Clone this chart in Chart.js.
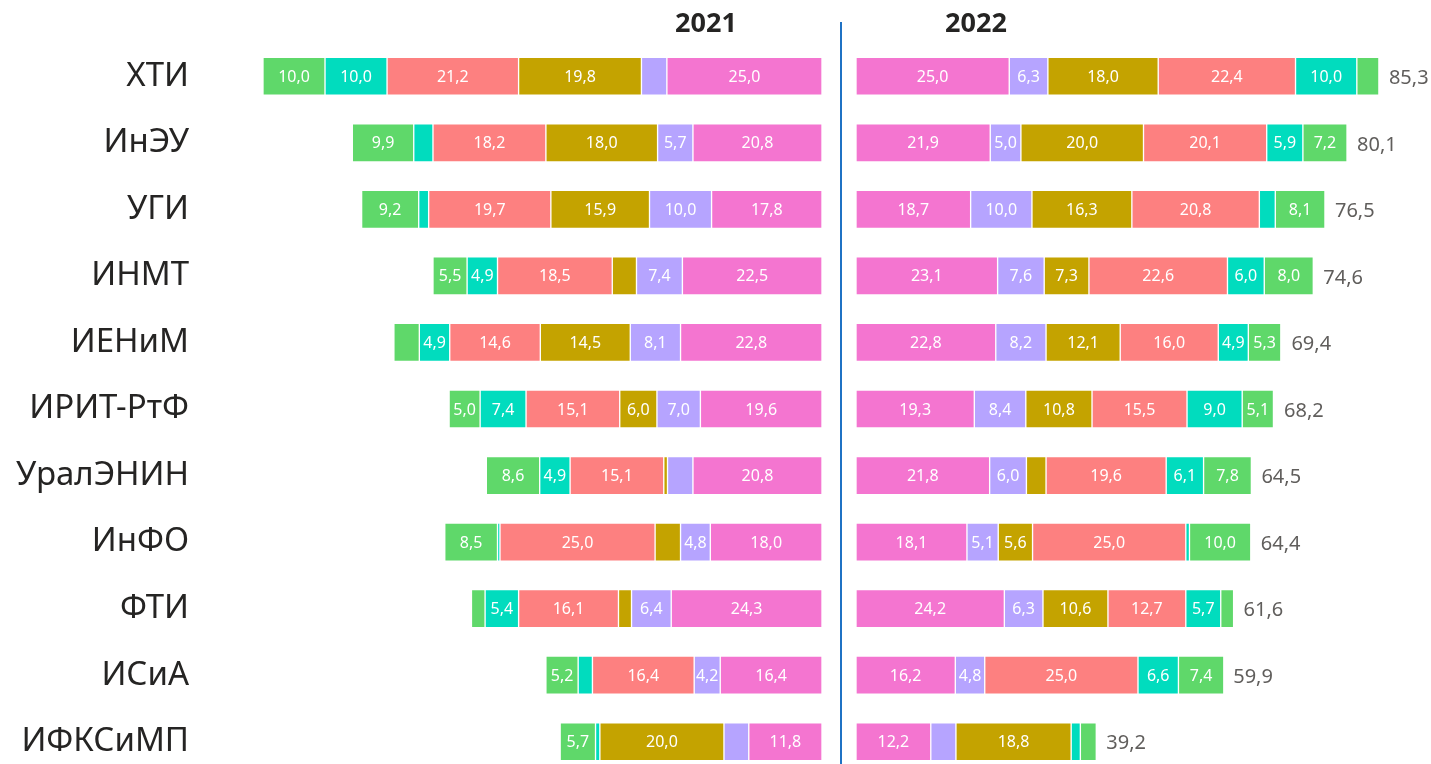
<!DOCTYPE html>
<html>
<head>
<meta charset="utf-8">
<script src="https://cdn.jsdelivr.net/npm/chart.js@4.4.0/dist/chart.umd.min.js"></script>
<style>
  html, body { margin: 0; padding: 0; background: #fff; overflow: hidden; }
  #wrap { position: relative; width: 1431px; height: 764px; }
  #leftBox { position: absolute; left: 0; top: 0; width: 840px; height: 775px; }
  #rightBox { position: absolute; left: 840px; top: 0; width: 591px; height: 775px; }
</style>
</head>
<body>
<div id="wrap">
  <div id="leftBox"><canvas id="left"></canvas></div>
  <div id="rightBox"><canvas id="right"></canvas></div>
</div>
<script>
const institutes = ["ХТИ", "ИнЭУ", "УГИ", "ИНМТ", "ИЕНиМ", "ИРИТ-РтФ", "УралЭНИН", "ИнФО", "ФТИ", "ИСиА", "ИФКСиМП"];
const years = ["2021", "2022"];
const seriesColors = ["#F475D0", "#B6A4FF", "#C4A300", "#FD8080", "#01DCBE", "#5FD86A"];

// 2021 segments
const pink2021     = [25.0, 20.8, 17.8, 22.5, 22.8, 19.6, 20.8, 18.0, 24.3, 16.4, 11.8];
const lavender2021 = [4.1, 5.7, 10.0, 7.4, 8.1, 7.0, 4.1, 4.8, 6.4, 4.2, 4.0];
const gold2021     = [19.8, 18.0, 15.9, 3.9, 14.5, 6.0, 0.6, 4.1, 2.1, 0, 20.0];
const salmon2021   = [21.2, 18.2, 19.7, 18.5, 14.6, 15.1, 15.1, 25.0, 16.1, 16.4, 0];
const teal2021     = [10.0, 3.1, 1.6, 4.9, 4.9, 7.4, 4.9, 0.4, 5.4, 2.3, 0.7];
const green2021    = [10.0, 9.9, 9.2, 5.5, 4.1, 5.0, 8.6, 8.5, 2.2, 5.2, 5.7];

// 2022 segments
const pink2022     = [25.0, 21.9, 18.7, 23.1, 22.8, 19.3, 21.8, 18.1, 24.2, 16.2, 12.2];
const lavender2022 = [6.3, 5.0, 10.0, 7.6, 8.2, 8.4, 6.0, 5.1, 6.3, 4.8, 4.1];
const gold2022     = [18.0, 20.0, 16.3, 7.3, 12.1, 10.8, 3.2, 5.6, 10.6, 0, 18.8];
const salmon2022   = [22.4, 20.1, 20.8, 22.6, 16.0, 15.5, 19.6, 25.0, 12.7, 25.0, 0];
const teal2022     = [10.0, 5.9, 2.6, 6.0, 4.9, 9.0, 6.1, 0.6, 5.7, 6.6, 1.5];
const green2022    = [3.6, 7.2, 8.1, 8.0, 5.3, 5.1, 7.8, 10.0, 2.1, 7.4, 2.6];

const totals2022 = [85.3, 80.1, 76.5, 74.6, 69.4, 68.2, 64.5, 64.4, 61.6, 59.9, 39.2];

const FONT = "'Noto Sans', 'Open Sans', sans-serif";
const fmt = (v) => v.toFixed(1).replace(".", ",");

function makeDatasets(arrays) {
  return arrays.map((data, i) => ({
    data: data,
    backgroundColor: seriesColors[i],
    borderColor: "rgba(255,255,255,0.55)",
    borderWidth: 1,
    borderSkipped: false,
    barThickness: 38,
  }));
}

const segmentLabels = {
  id: "segmentLabels",
  afterDatasetsDraw(chart) {
    const ctx = chart.ctx;
    ctx.save();
    ctx.font = "16px " + FONT;
    ctx.fillStyle = "#ffffff";
    ctx.textAlign = "center";
    ctx.textBaseline = "middle";
    chart.data.datasets.forEach((ds, di) => {
      const meta = chart.getDatasetMeta(di);
      meta.data.forEach((bar, i) => {
        const v = ds.data[i];
        if (v >= 4.2) {
          const cx = (bar.x + bar.base) / 2;
          ctx.fillText(fmt(v), cx, bar.y + 1);
        }
      });
    });
    ctx.restore();
  },
};

const yearTitle = {
  id: "yearTitle",
  afterDraw(chart, args, opts) {
    const ctx = chart.ctx;
    const area = chart.chartArea;
    ctx.save();
    ctx.font = "bold 27px " + FONT;
    ctx.fillStyle = "#252423";
    ctx.textAlign = "center";
    ctx.textBaseline = "middle";
    const x = opts.side === "left" ? area.right - 116 : area.left + 120;
    ctx.fillText(opts.text, x, 24);
    if (opts.side === "right") {
      ctx.strokeStyle = "#1F72C4";
      ctx.lineWidth = 2;
      ctx.beginPath();
      ctx.moveTo(area.left - 15, 22);
      ctx.lineTo(area.left - 15, chart.height);
      ctx.stroke();
    }
    ctx.restore();
  },
};

const totalLabels = {
  id: "totalLabels",
  afterDatasetsDraw(chart) {
    const ctx = chart.ctx;
    const xs = chart.scales.x;
    const ys = chart.scales.y;
    ctx.save();
    ctx.font = "20px " + FONT;
    ctx.fillStyle = "#605E5C";
    ctx.textAlign = "left";
    ctx.textBaseline = "middle";
    totals2022.forEach((t, i) => {
      ctx.fillText(fmt(t), xs.getPixelForValue(t) + 10, ys.getPixelForValue(i) + 2);
    });
    ctx.restore();
  },
};

const commonOptions = {
  indexAxis: "y",
  responsive: true,
  maintainAspectRatio: false,
  animation: false,
  plugins: { legend: { display: false }, tooltip: { enabled: false } },
};

new Chart(document.getElementById("left"), {
  type: "bar",
  data: {
    labels: institutes,
    datasets: makeDatasets([pink2021, lavender2021, gold2021, salmon2021, teal2021, green2021]),
  },
  options: {
    ...commonOptions,
    layout: { padding: { top: 43, right: 18, bottom: 0, left: 0 } },
    plugins: { ...commonOptions.plugins, yearTitle: { text: years[0], side: "left" } },
    scales: {
      x: { stacked: true, reverse: true, min: 0, max: 98.8, display: false },
      y: {
        stacked: true,
        grid: { display: false },
        border: { display: false },
        ticks: { color: "#252423", font: { family: FONT, size: 33 }, padding: 12 },
        afterFit: (scale) => {
          scale.width = 209;
          scale.paddingTop = 0;
          scale.paddingBottom = 0;
        },
      },
    },
  },
  plugins: [segmentLabels, yearTitle],
});

new Chart(document.getElementById("right"), {
  type: "bar",
  data: {
    labels: institutes,
    datasets: makeDatasets([pink2022, lavender2022, gold2022, salmon2022, teal2022, green2022]),
  },
  options: {
    ...commonOptions,
    layout: { padding: { top: 43, right: 0, bottom: 0, left: 16 } },
    plugins: { ...commonOptions.plugins, yearTitle: { text: years[1], side: "right" } },
    scales: {
      x: { stacked: true, min: 0, max: 93.8, display: false },
      y: { stacked: true, display: false },
    },
  },
  plugins: [segmentLabels, totalLabels, yearTitle],
});
</script>
</body>
</html>
